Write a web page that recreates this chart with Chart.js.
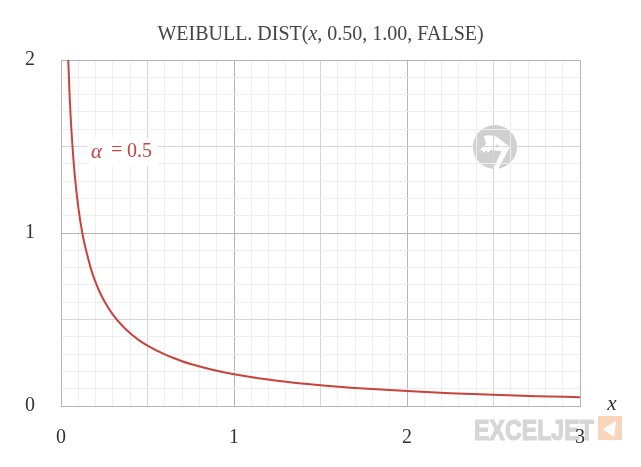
<!DOCTYPE html>
<html>
<head>
<meta charset="utf-8">
<script src="https://cdn.jsdelivr.net/npm/chart.js@4.4.1/dist/chart.umd.min.js"></script>
<style>
  html, body { margin: 0; padding: 0; background: #fff; }
  #wrap { width: 641px; height: 467px; }
</style>
</head>
<body>
<div id="wrap"><canvas id="chart"></canvas></div>
<script>
// values
var xValues = [0.02, 0.03, 0.04, 0.05, 0.06, 0.08, 0.1, 0.125, 0.15, 0.175, 0.2, 0.225, 0.25, 0.3, 0.35, 0.4, 0.45, 0.5, 0.6, 0.7, 0.75, 0.875, 1, 1.25, 1.5, 1.75, 2, 2.25, 2.5, 2.75, 3];
var yValues = [3.07, 2.43, 2.05, 1.79, 1.6, 1.33, 1.15, 0.99, 0.88, 0.787, 0.715, 0.656, 0.607, 0.528, 0.468, 0.42, 0.381, 0.349, 0.298, 0.259, 0.243, 0.21, 0.184, 0.146, 0.12, 0.101, 0.086, 0.074, 0.065, 0.057, 0.051];
var xTickLabels = ['0', '1', '2', '3'];
var yTickLabels = ['0', '1', '2'];
var titleText = 'WEIBULL. DIST(';
var seriesLabel = '0.5';

var serif = '"Liberation Serif", "DejaVu Serif", serif';
var lineColor = '#c9423c';

var points = [];
for (var i = 0; i < xValues.length; i++) {
    points.push({ x: xValues[i], y: yValues[i] });
}

function isStep(v, step) {
    var r = v / step;
    return Math.abs(r - Math.round(r)) < 1e-6;
}

function gridColor(ctx) {
    var v = ctx.tick ? ctx.tick.value : 0;
    if (isStep(v, 1)) return '#b4b4b4';
    if (isStep(v, 0.5)) return '#d6d6d6';
    return '#eeeeee';
}

var extras = {
    id: 'extras',
    beforeDraw: function (chart) {
        var c = chart.ctx;
        c.save();
        // watermark icon
        c.fillStyle = '#d0d0d0';
        c.beginPath();
        c.arc(495, 147, 22, 0, Math.PI * 2);
        c.fill();
        c.fillStyle = '#ffffff';
        c.beginPath();
        c.moveTo(484, 136);
        c.quadraticCurveTo(490, 134, 497, 137);
        c.lineTo(510, 147);
        c.lineTo(498, 169);
        c.lineTo(493, 169);
        c.lineTo(502, 151);
        c.lineTo(490, 150);
        c.lineTo(488, 153);
        c.lineTo(486, 150);
        c.lineTo(484, 153);
        c.lineTo(482, 150);
        c.lineTo(479, 151);
        c.lineTo(486, 144);
        c.closePath();
        c.fill();
        c.fillStyle = '#d0d0d0';
        c.beginPath();
        c.arc(497, 146, 1.5, 0, Math.PI * 2);
        c.fill();
        // exceljet logo
        c.fillStyle = '#d6d6d6';
        c.strokeStyle = '#d6d6d6';
        c.lineWidth = 1.2;
        c.font = 'bold 29px "Liberation Sans", "DejaVu Sans", sans-serif';
        c.textBaseline = 'alphabetic';
        c.textAlign = 'left';
        c.save();
        c.translate(474, 440);
        c.scale(0.8, 1);
        c.fillText('EXCELJET', 0, 0);
        c.strokeText('EXCELJET', 0, 0);
        c.restore();
        c.fillStyle = '#f9d6bb';
        c.fillRect(598, 416, 24, 24);
        c.fillStyle = '#ffffff';
        c.beginPath();
        c.moveTo(616, 421);
        c.lineTo(603, 429);
        c.lineTo(614, 437);
        c.closePath();
        c.fill();
        c.restore();
    },
    afterDraw: function (chart) {
        var c = chart.ctx;
        var a = chart.chartArea;
        c.save();
        // title
        c.fillStyle = '#444444';
        c.textBaseline = 'middle';
        var parts = [
            { t: titleText, f: '20px ' + serif },
            { t: 'x', f: 'italic 20px ' + serif },
            { t: ', 0.50, 1.00, FALSE)', f: '20px ' + serif }
        ];
        var total = 0;
        parts.forEach(function (p) { c.font = p.f; total += c.measureText(p.t).width; });
        var x = (a.left + a.right) / 2 - total / 2;
        c.textAlign = 'left';
        parts.forEach(function (p) { c.font = p.f; c.fillText(p.t, x, 35); x += c.measureText(p.t).width; });

        // series label
        c.fillStyle = '#ffffff';
        c.fillRect(87, 138, 71, 28);
        c.fillStyle = lineColor;
        c.font = 'italic 21px ' + serif;
        c.fillText('\u03b1', 91, 152);
        c.font = '20px ' + serif;
        c.fillText('=', 111, 151);
        c.fillText(seriesLabel, 127, 152);

        // axis label
        c.fillStyle = '#333333';
        c.font = 'italic 21px ' + serif;
        c.textAlign = 'center';
        c.fillText('x', 612, 404);
        c.restore();
    }
};

new Chart(document.getElementById('chart'), {
    type: 'scatter',
    data: {
        datasets: [
            {
                data: points,
                showLine: true,
                borderColor: lineColor,
                borderWidth: 2,
                pointRadius: 0,
                cubicInterpolationMode: 'monotone',
                fill: false
            }
        ]
    },
    options: {
        responsive: true,
        maintainAspectRatio: false,
        animation: false,
        layout: { padding: { top: 60, right: 61, left: 0, bottom: 0 } },
        plugins: { legend: { display: false }, tooltip: { enabled: false }, title: { display: false } },
        scales: {
            x: {
                type: 'linear',
                min: 0,
                max: 3,
                afterFit: function (s) { s.height = 61; },
                border: { color: '#b4b4b4', width: 1 },
                grid: { color: gridColor, drawTicks: false, lineWidth: 1 },
                ticks: {
                    stepSize: 0.1,
                    autoSkip: false,
                    maxRotation: 0,
                    padding: 20,
                    color: '#333333',
                    font: { family: serif, size: 20 },
                    callback: function (v) {
                        return isStep(v, 1) ? xTickLabels[Math.round(v)] : '';
                    }
                }
            },
            y: {
                type: 'linear',
                min: 0,
                max: 2,
                afterFit: function (s) { s.width = 61; },
                border: { color: '#b4b4b4', width: 1 },
                grid: { color: gridColor, drawTicks: false, lineWidth: 1 },
                ticks: {
                    stepSize: 0.1,
                    autoSkip: false,
                    padding: 26,
                    color: '#333333',
                    font: { family: serif, size: 20 },
                    callback: function (v) {
                        return isStep(v, 1) ? yTickLabels[Math.round(v)] : '';
                    }
                }
            }
        }
    },
    plugins: [extras]
});
</script>
</body>
</html>
